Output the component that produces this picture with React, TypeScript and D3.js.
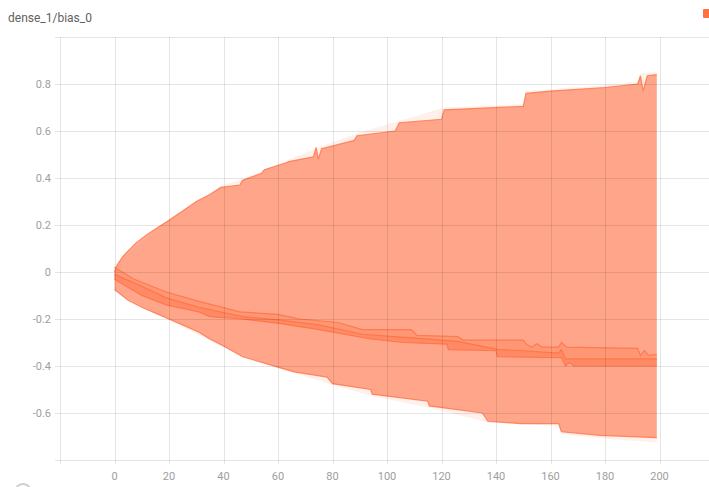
import * as d3 from "d3";
import {useEffect, useRef} from "react";

// [step, value] pairs
const maxSeries: [number, number][] = [
  [0, 0.03], [20, 0.225], [40, 0.37], [47, 0.395], [64, 0.48], [76, 0.535], [89, 0.59],
  [105, 0.645], [121, 0.7], [150, 0.715], [151, 0.77], [180, 0.795], [192, 0.81], [193, 0.845], [199, 0.85],
];
const upperSeries: [number, number][] = [
  [0, 0.0], [1, 0.03], [3, 0.065], [5, 0.09], [8, 0.125], [12, 0.16], [16, 0.19], [20, 0.22], [25, 0.26],
  [30, 0.3], [35, 0.33], [39, 0.36], [46, 0.37], [47, 0.39], [54, 0.42], [55, 0.435], [63, 0.465],
  [64, 0.47], [73, 0.49], [74, 0.53], [74.8, 0.48], [76, 0.525], [88, 0.56], [89, 0.58], [103, 0.6],
  [104.5, 0.635], [120, 0.65], [121, 0.69], [150, 0.705], [151, 0.76], [160, 0.77], [180, 0.785],
  [192, 0.8], [193, 0.835], [194, 0.77], [195.5, 0.835], [199, 0.84],
];
const innerTop: [number, number][] = [
  [0, 0.02], [7, -0.03], [19, -0.085], [31, -0.125], [46, -0.17], [60, -0.18], [68, -0.2],
  [82, -0.215], [91, -0.245], [109, -0.245], [111, -0.27], [126, -0.275], [128, -0.29], [150, -0.29],
  [151, -0.305], [153, -0.32], [155, -0.305], [157, -0.32], [163, -0.32], [164, -0.3], [166, -0.32],
  [192, -0.325], [193, -0.355], [194.5, -0.335], [196, -0.355], [199, -0.35],
];
const innerMid: [number, number][] = [
  [0, -0.01], [7, -0.045], [19, -0.11], [31, -0.15], [47, -0.19], [61, -0.205], [75, -0.225],
  [91, -0.265], [109, -0.28], [126, -0.295], [141, -0.33], [150, -0.335], [163, -0.345],
  [164, -0.33], [165.5, -0.37], [199, -0.37],
];
const innerBottom: [number, number][] = [
  [0, -0.03], [2, -0.045], [10, -0.1], [19, -0.14], [31, -0.17], [35, -0.19], [47, -0.2],
  [61, -0.22], [75, -0.245], [94, -0.285], [106, -0.3], [122, -0.307], [122.5, -0.33], [140, -0.335],
  [140.5, -0.36], [164, -0.365], [165.5, -0.4], [167, -0.385], [168.5, -0.4], [199, -0.4],
];
const lowerSeries: [number, number][] = [
  [0, -0.075], [5, -0.12], [10, -0.15], [15, -0.175], [20, -0.2], [25, -0.225], [31, -0.256],
  [35, -0.285], [40, -0.315], [47, -0.36], [60, -0.405], [66, -0.425], [78, -0.447], [80, -0.475],
  [94, -0.5], [94.6, -0.52], [115, -0.55], [115.5, -0.57], [135, -0.6], [137, -0.635], [149, -0.645],
  [163, -0.645], [164, -0.68], [178, -0.695], [199, -0.705],
];
const minSeries: [number, number][] = [
  [0, -0.08], [20, -0.205], [40, -0.32], [60, -0.41], [80, -0.48], [95, -0.53], [115, -0.575],
  [137, -0.64], [163, -0.655], [164, -0.69], [180, -0.71], [199, -0.725],
];

const xTicks = [0, 20, 40, 60, 80, 100, 120, 140, 160, 180, 200];
const yTicks = [-0.6, -0.4, -0.2, 0, 0.2, 0.4, 0.6, 0.8];
const title = "dense_1/bias_0";

export default function App() {
  const ref = useRef<SVGSVGElement>(null);

  useEffect(() => {
    const svg = d3.select(ref.current);
    svg.selectAll("*").remove();

    const left = 60, right = 714, top = 37, bottom = 460;
    const x = d3.scaleLinear().domain([-20, 220]).range([left, right]);
    const y = d3.scaleLinear().domain([-0.8, 1.0]).range([bottom, top]);

    svg.append("text")
      .attr("x", 8).attr("y", 22)
      .attr("font-family", "Roboto, sans-serif").attr("font-size", 12)
      .attr("fill", "#616161")
      .text(title);

    // small legend swatch, cut off at the right edge
    svg.append("rect")
      .attr("x", 703).attr("y", 9).attr("width", 10).attr("height", 9)
      .attr("rx", 1).attr("fill", "#ff7043");

    const line = d3.line<[number, number]>().x(d => x(d[0])).y(d => y(d[1]));
    const band = (up: [number, number][], lo: [number, number][]) =>
      line([...up, ...lo.slice().reverse()]) + "Z";

    const g = svg.append("g");
    g.append("path").attr("d", band(maxSeries, minSeries))
      .attr("fill", "#ff7043").attr("fill-opacity", 0.1);
    g.append("path").attr("d", band(upperSeries, lowerSeries))
      .attr("fill", "#ff7043").attr("fill-opacity", 0.58);
    g.append("path").attr("d", band(innerTop, innerBottom))
      .attr("fill", "#ff7043").attr("fill-opacity", 0.3);
    g.append("path").attr("d", band(innerMid, innerBottom))
      .attr("fill", "#ff7043").attr("fill-opacity", 0.3);

    [upperSeries, lowerSeries, innerTop, innerMid, innerBottom].forEach(s => {
      g.append("path").attr("d", line(s))
        .attr("fill", "none").attr("stroke", "#ff6d3f")
        .attr("stroke-width", 1.2).attr("stroke-opacity", 0.75);
    });

    // grid drawn over the bands, translucent so it shows through the fill
    const grid = svg.append("g").attr("stroke", "#000").attr("stroke-opacity", 0.1).attr("stroke-width", 1);
    [...yTicks, -0.8, 1.0].forEach(v => {
      grid.append("line")
        .attr("x1", left - 5).attr("x2", 709)
        .attr("y1", Math.round(y(v)) + 0.5).attr("y2", Math.round(y(v)) + 0.5);
    });
    [-20, ...xTicks].forEach(v => {
      grid.append("line")
        .attr("x1", Math.round(x(v)) + 0.5).attr("x2", Math.round(x(v)) + 0.5)
        .attr("y1", top).attr("y2", bottom + 4);
    });

    const labels = svg.append("g")
      .attr("font-family", "Roboto, sans-serif").attr("font-size", 11).attr("fill", "#9e9e9e");
    yTicks.forEach(v => {
      labels.append("text")
        .attr("x", 51).attr("y", y(v)).attr("dy", "0.35em")
        .attr("text-anchor", "end")
        .text(v === 0 ? "0" : v.toFixed(1));
    });
    xTicks.forEach(v => {
      labels.append("text")
        .attr("x", x(v)).attr("y", 480)
        .attr("text-anchor", "middle")
        .text(v);
    });

    // partial icon at bottom-left
    svg.append("ellipse")
      .attr("cx", 23).attr("cy", 490).attr("rx", 7).attr("ry", 6)
      .attr("fill", "none").attr("stroke", "#cfcfcf").attr("stroke-width", 2);
  }, []);

  return (
    <svg ref={ref} width={709} height={487}
      style={{position: "absolute", left: 0, top: 0, display: "block", background: "#fff"}} />
  );
}
